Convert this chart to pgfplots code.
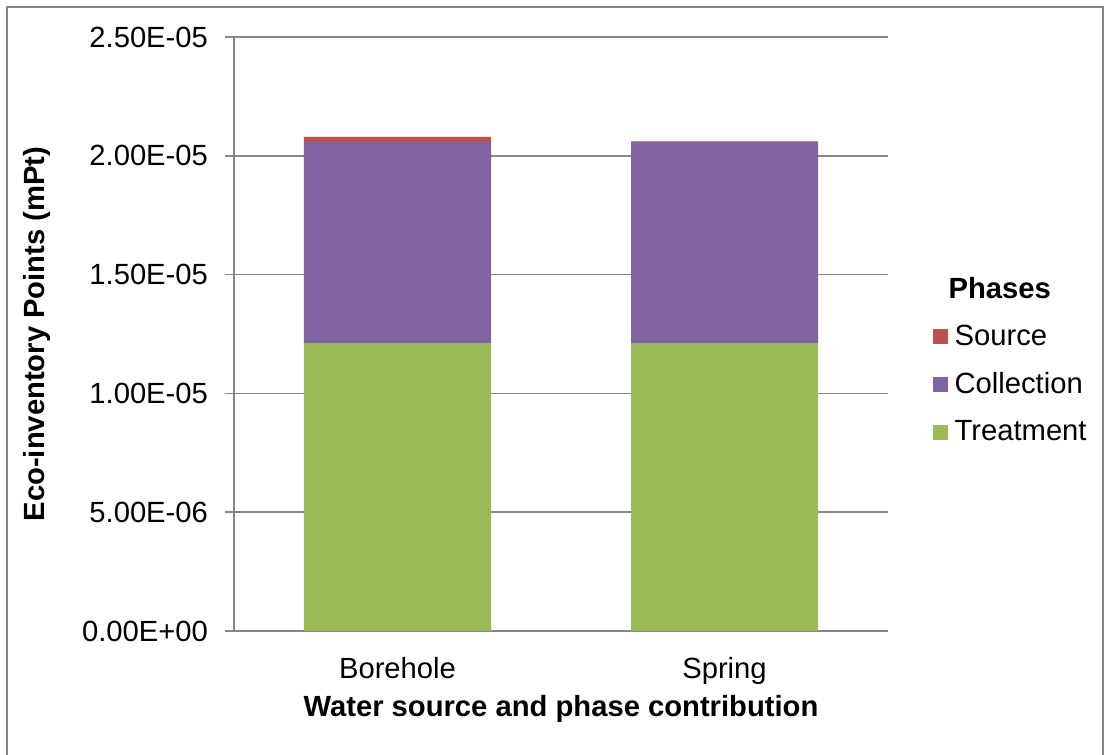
\documentclass[border=0pt]{standalone}
\usepackage{fontspec}
\setmainfont{Liberation Sans}
\usepackage{pgfplots}
\pgfplotsset{compat=1.18}

\definecolor{treat}{HTML}{9BBB59}
\definecolor{coll}{HTML}{8064A2}
\definecolor{src}{HTML}{C0504D}
\definecolor{gridgray}{HTML}{878787}

\newcommand{\fs}{\fontsize{14.6}{17.5}\selectfont}

\begin{document}
\begin{tikzpicture}
  % page as large as the reference, 0.5pt per pixel
  \path[use as bounding box] (0,0) rectangle (552pt,-377.5pt);
  \draw[gridgray, line width=0.8pt] (3.5pt,-400pt) -- (3.5pt,-3.5pt) -- (551.5pt,-3.5pt) -- (551.5pt,-400pt);

  \begin{axis}[
      at={(117pt,-315.5pt)}, anchor=south west,
      scale only axis,
      width=327pt, height=297pt,
      ybar stacked,
      bar width=93.5pt,
      xmin=0, xmax=2,
      ymin=0, ymax=2.5e-5,
      scaled y ticks=false,
      xtick={0.5,1.5},
      xticklabels={Borehole, Spring},
      xtick style={draw=none},
      xticklabel style={font=\fs, anchor=base, yshift=-19pt},
      ytick={0,5e-6,1e-5,1.5e-5,2e-5,2.5e-5},
      yticklabels={0.00E+00,5.00E-06,1.00E-05,1.50E-05,2.00E-05,2.50E-05},
      yticklabel style={font=\fs, anchor=east, xshift=-5pt},
      tick align=outside,
      major tick length=4.5pt,
      ytick style={gridgray, line width=0.8pt},
      axis lines*=left,
      axis line style={gridgray, line width=0.8pt},
      ymajorgrids,
      grid style={gridgray, line width=0.8pt},
      xlabel={\textbf{Water source and phase contribution}},
      xlabel style={font=\fs, at={(axis description cs:0.5,-0.131)}, anchor=center},
      ylabel={\textbf{Eco-inventory Points (mPt)}},
      ylabel style={font=\fs, at={(axis description cs:-0.301,0.5)}, anchor=center},
      reverse legend,
      legend cell align=left,
      legend style={draw=none, fill=none, font=\fs, inner sep=0pt,
        at={(rel axis cs:1.0676,0.6036)}, anchor=north west,
        row sep=8pt},
      legend image code/.code={\fill[#1] (0pt,-3.75pt) rectangle (7.5pt,3.75pt); \path (9pt,0pt);},
    ]
    \addplot[fill=treat, draw=none] coordinates {(0.5,1.210e-5) (1.5,1.210e-5)};
    \addlegendentry{Treatment}
    \addplot[fill=coll, draw=none] coordinates {(0.5,0.849e-5) (1.5,0.849e-5)};
    \addlegendentry{Collection}
    \addplot[fill=src, draw=none] coordinates {(0.5,2.1e-7) (1.5,2e-8)};
    \addlegendentry{Source}
    \addlegendimage{empty legend}
    \addlegendentry{\hspace{-3pt}\textbf{Phases}}
  \end{axis}
\end{tikzpicture}
\end{document}
